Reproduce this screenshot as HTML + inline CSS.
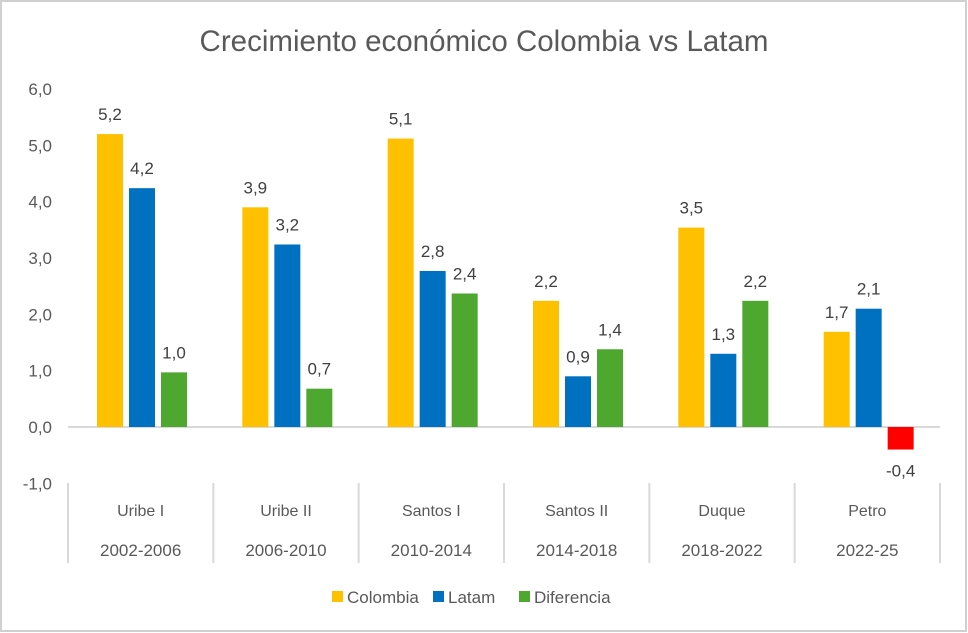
<!DOCTYPE html>
<html><head><meta charset="utf-8"><style>
html,body{margin:0;padding:0;background:#fff;}
svg{display:block;font-family:"Liberation Sans",sans-serif;}
</style></head><body>
<svg id="chart" width="968" height="633" viewBox="0 0 968 633">
<rect x="1" y="1" width="965" height="630" fill="#fff" stroke="#d0d0d0" stroke-width="2"/>
<text x="484" y="51" text-anchor="middle" font-size="29.5" fill="#595959">Crecimiento económico Colombia vs Latam</text>
<g id="g"></g>
</svg>
<script>
const categories = ["Uribe I","Uribe II","Santos I","Santos II","Duque","Petro"];
const periods = ["2002-2006","2006-2010","2010-2014","2014-2018","2018-2022","2022-25"];
const colombia = [5.2,3.9,5.12,2.24,3.54,1.69];
const latam = [4.24,3.24,2.77,0.9,1.3,2.1];
const diferencia = [0.97,0.68,2.37,1.38,2.24,-0.4];
const yTicks = [-1,0,1,2,3,4,5,6];
const NS="http://www.w3.org/2000/svg";
const g=document.getElementById('g');
const x0=68,x1=940,zeroY=427,unit=56.33;
const gw=(x1-x0)/categories.length;
const y=v=>zeroY-v*unit;
const fmt=v=>v.toFixed(1).replace('.',',');
function mk(t,a,txt){const e=document.createElementNS(NS,t);for(const k in a)e.setAttribute(k,a[k]);if(txt!==undefined)e.textContent=txt;g.appendChild(e);return e;}
yTicks.forEach(t=>{
 const e=mk('text',{x:52,y:y(t)+6,'text-anchor':'end','font-size':17,fill:'#595959'},fmt(t));
 
 
});
const zl=mk('line',{x1:x0,x2:x1,y1:zeroY,y2:zeroY,stroke:'#d9d9d9','stroke-width':2});


for(let i=0;i<=categories.length;i++){
 const l=mk('line',{x1:x0+i*gw,x2:x0+i*gw,y1:483,y2:563,stroke:'#d9d9d9','stroke-width':2});
 
 
}
const series=[[colombia,'#FFC000','colombia'],[latam,'#0070C0','latam'],[diferencia,'#4EA72E','diferencia']];
const bw=26,gap=6,off=29;
categories.forEach((c,i)=>{
 const gx=x0+i*gw;
 series.forEach(([arr,col,nm],s)=>{
  const v=arr[i];
  const bx=gx+off+s*(bw+gap);
  const top=Math.min(y(v),zeroY),h=Math.abs(y(v)-zeroY);
  const fill=v<0?'#FF0000':col;
  const r=mk('rect',{x:bx,y:top,width:bw,height:h,fill:fill});
  
  
  const ly=v<0?y(v)+27:y(v)-14;
  const t=mk('text',{x:bx+bw/2,y:ly,'text-anchor':'middle','font-size':17,fill:'#404040'},fmt(v));
  
  
 });
 const t1=mk('text',{x:gx+gw/2,y:516,'text-anchor':'middle','font-size':16,fill:'#595959'},c);
 
 
 const t2=mk('text',{x:gx+gw/2,y:556,'text-anchor':'middle','font-size':17,fill:'#595959'},periods[i]);
 
 
});
const legend=[['Colombia','#FFC000',332],['Latam','#0070C0',433],['Diferencia','#4EA72E',519]];
legend.forEach(([n,c,lx])=>{
 const r=mk('rect',{x:lx,y:591,width:11,height:11,fill:c});
 
 
 const t=mk('text',{x:lx+15,y:603,'font-size':17,fill:'#595959'},n);
 
 
});
</script>
</body></html>
